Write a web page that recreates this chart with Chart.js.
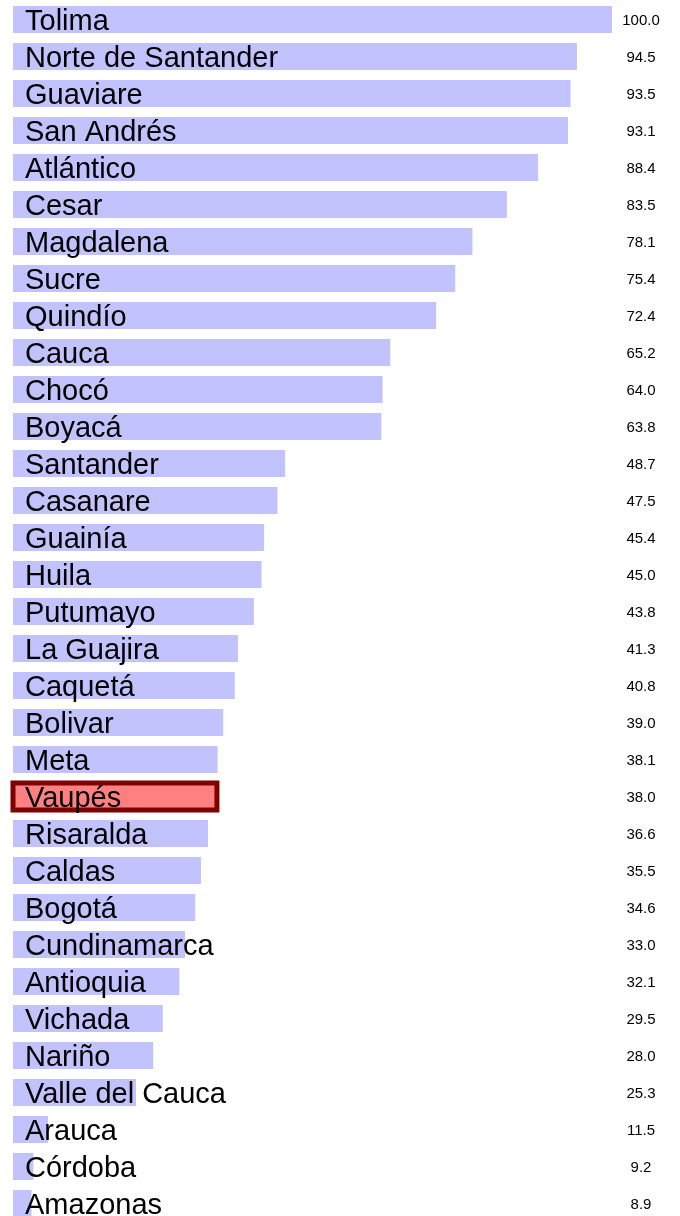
<!DOCTYPE html>
<html>
<head>
<meta charset="utf-8">
<script src="https://cdn.jsdelivr.net/npm/chart.js@4"></script>
<style>
  html, body { margin: 0; padding: 0; background: #fff; overflow: hidden; }
  #wrap { position: relative; width: 680px; height: 1222px; }
</style>
</head>
<body>
<div id="wrap"><canvas id="chart"></canvas></div>
<script>
// departamentos y valores
const departments = [
  'Tolima', 'Norte de Santander', 'Guaviare', 'San Andrés', 'Atlántico', 'Cesar',
  'Magdalena', 'Sucre', 'Quindío', 'Cauca', 'Chocó', 'Boyacá', 'Santander',
  'Casanare', 'Guainía', 'Huila', 'Putumayo', 'La Guajira', 'Caquetá', 'Bolivar',
  'Meta', 'Vaupés', 'Risaralda', 'Caldas', 'Bogotá', 'Cundinamarca', 'Antioquia',
  'Vichada', 'Nariño', 'Valle del Cauca', 'Arauca', 'Córdoba', 'Amazonas'
];
const values = [
  100.0, 94.5, 93.5, 93.1, 88.4, 83.5, 78.1, 75.4, 72.4, 65.2, 64.0, 63.8, 48.7,
  47.5, 45.4, 45.0, 43.8, 41.3, 40.8, 39.0, 38.1, 38.0, 36.6, 35.5, 34.6, 33.0,
  32.1, 29.5, 28.0, 25.3, 11.5, 9.2, 8.9
];
const highlight = 'Vaupés';

const barColor = '#c2c2ff';
const highlightFill = '#ff8080';
const highlightBorder = '#800000';

// textos encima de las barras
const labelsPlugin = {
  id: 'barLabels',
  afterDatasetsDraw(chart) {
    const ctx = chart.ctx;
    const meta = chart.getDatasetMeta(0);
    const area = chart.chartArea;
    ctx.save();
    meta.data.forEach((bar, i) => {
      const p = bar.getProps(['x', 'y', 'base', 'height'], true);
      if (departments[i] === highlight) {
        const left = Math.max(p.base, area.left);
        ctx.strokeStyle = highlightBorder;
        ctx.lineWidth = 5;
        ctx.strokeRect(left, p.y - p.height / 2, p.x - left, p.height);
      }
      ctx.fillStyle = '#000';
      ctx.textBaseline = 'alphabetic';
      ctx.font = '29px "Liberation Sans", Arial, sans-serif';
      ctx.textAlign = 'left';
      ctx.fillText(departments[i], area.left + 12, p.y + 10.5);
      ctx.font = '15px "Liberation Sans", Arial, sans-serif';
      ctx.textAlign = 'center';
      ctx.fillText(values[i].toFixed(1), 641, p.y + 5.5);
    });
    ctx.restore();
  }
};

new Chart(document.getElementById('chart'), {
  type: 'bar',
  data: {
    labels: departments,
    datasets: [{
      data: values,
      backgroundColor: departments.map(d => d === highlight ? highlightFill : barColor),
      borderWidth: 0,
      barPercentage: 0.73,
      categoryPercentage: 1.0
    }]
  },
  options: {
    indexAxis: 'y',
    responsive: true,
    maintainAspectRatio: false,
    animation: false,
    layout: { padding: { left: 13, right: 68, top: 1, bottom: 0 } },
    plugins: {
      legend: { display: false },
      tooltip: { enabled: false }
    },
    scales: {
      x: { display: false, min: 6, max: 100 },
      y: { display: false }
    }
  },
  plugins: [labelsPlugin]
});
</script>
</body>
</html>
